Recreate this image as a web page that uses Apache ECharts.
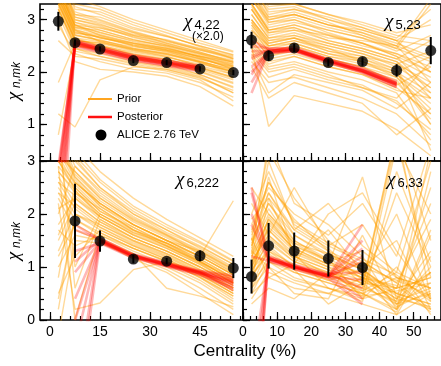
<!DOCTYPE html>
<html>
<head>
<meta charset="utf-8">
<script src="https://cdn.jsdelivr.net/npm/echarts@6/dist/echarts.min.js"></script>
<style>html,body{margin:0;padding:0;background:#fff}#c{width:441px;height:366px}</style>
</head>
<body>
<div id="c"></div>
<script>
// ---------- data ----------
const centrality = [2.5, 7.5, 15, 25, 35, 45, 55];

const chi422 = [2.97, 2.56, 2.44, 2.22, 2.18, 2.06, 1.99];
const chi422Err = [0.18, 0.06, 0.05, 0.05, 0.05, 0.05, 0.05];
const chi523 = [2.61, 2.31, 2.46, 2.18, 2.20, 2.03, 2.41];
const chi523Err = [0.16, 0.10, 0.08, 0.07, 0.08, 0.12, 0.26];
const chi6222 = [null, 1.87, 1.49, 1.15, 1.11, 1.21, 0.98];
const chi6222Err = [null, 0.70, 0.20, 0.08, 0.06, 0.10, 0.19];
const chi633 = [0.82, 1.40, 1.30, 1.16, 0.99, null, null];
const chi633Err = [0.32, 0.43, 0.35, 0.34, 0.33, null, null];

const prior422 = [
 [3.6,2.95,2.85,2.7,2.58,2.42,2.28],[3.8,3.1,3.05,2.82,2.68,2.5,2.33],[3.5,2.8,2.7,2.55,2.45,2.3,2.15],
 [3.4,2.7,2.62,2.45,2.35,2.2,2.05],[3.7,2.9,2.75,2.6,2.5,2.32,2.12],[3.3,2.6,2.55,2.4,2.3,2.12,1.95],
 [3.9,3.2,3.15,2.9,2.7,2.48,2.25],[3.5,2.75,2.66,2.5,2.38,2.22,2.0],[3.2,2.5,2.45,2.3,2.2,2.05,1.85],
 [3.6,2.85,2.8,2.62,2.48,2.28,2.05],[3.4,2.65,2.5,2.32,2.2,2.0,1.78],[3.1,2.4,2.3,2.15,2.05,1.88,1.65],
 [3.8,3.0,2.9,2.72,2.62,2.45,2.3],[2.9,2.35,2.2,2.05,1.98,1.8,1.52],[3.5,2.8,2.58,2.42,2.3,2.1,1.9],
 [3.7,3.05,2.95,2.75,2.55,2.38,2.18],[1.8,2.55,2.4,2.25,2.15,1.95,1.7],[3.3,2.58,2.5,2.38,2.28,2.15,2.02],
 [3.6,2.9,2.7,2.52,2.42,2.25,2.1],[4.0,3.3,3.2,2.95,2.75,2.55,2.38],[3.2,2.45,2.35,2.2,2.1,1.95,1.72],
 [3.45,2.72,2.6,2.48,2.4,2.2,1.98],[1.2,0.95,1.85,2.1,2.05,1.9,1.6],[3.0,2.2,2.05,2.0,1.92,1.72,1.35],
 [3.55,2.82,2.65,2.55,2.42,2.3,2.2],[3.35,2.62,2.52,2.35,2.25,2.08,1.9],[0.8,2.45,2.3,2.18,2.08,1.92,1.6],
 [3.65,3.0,2.88,2.66,2.52,2.35,2.15],[3.25,2.5,2.42,2.28,2.18,2.02,1.8],[3.75,3.15,3.0,2.78,2.6,2.42,2.25],
 [3.6,2.85,2.72,2.55,2.45,2.28,2.1],[3.4,2.75,2.68,2.5,2.4,2.25,2.08],[3.7,2.95,2.8,2.62,2.5,2.35,2.18],
 [3.3,2.65,2.58,2.42,2.33,2.18,2.0],[3.8,3.05,2.92,2.7,2.55,2.38,2.2],[3.5,2.78,2.66,2.52,2.42,2.26,2.06],
 [3.9,3.25,3.1,2.85,2.68,2.5,2.32],[3.2,2.55,2.48,2.34,2.24,2.08,1.88],[3.6,2.88,2.76,2.58,2.46,2.3,2.12],
 [3.45,2.7,2.6,2.45,2.36,2.18,1.95],[4.1,3.4,3.25,3.0,2.8,2.6,2.4],[3.35,2.6,2.56,2.44,2.34,2.2,2.04],
 [3.75,3.1,2.98,2.76,2.6,2.44,2.26],[2.6,2.3,2.25,2.12,2.02,1.85,1.45],[3.55,2.9,2.84,2.68,2.52,2.36,2.22]
];
const post422 = [
 [-0.2,2.56,2.44,2.28,2.18,2.08],[-1.6,2.59,2.47,2.31,2.21,2.11],[0.1,2.51,2.39,2.23,2.13,2.03],
 [-0.6,2.55,2.42,2.26,2.17,2.06],[-2.5,2.61,2.48,2.32,2.22,2.12],[0.2,2.49,2.38,2.22,2.12,2.01],
 [-0.4,2.57,2.45,2.29,2.19,2.09],[-0.9,2.53,2.41,2.25,2.15,2.05],[0.0,2.59,2.43,2.27,2.16,2.07],
 [-1.2,2.54,2.44,2.28,2.18,2.08]
];

const prior523 = [
 [3.5,3.0,3.1,2.9,2.75,2.55,2.3],[3.2,2.7,2.8,2.6,2.45,2.25,1.9],[2.9,2.45,2.55,2.35,2.25,2.0,1.6],
 [3.6,3.2,3.25,3.0,2.8,2.6,2.5],[2.6,2.2,2.3,2.1,1.95,1.7,1.2],[3.0,2.6,2.7,2.5,2.35,2.1,1.7],
 [2.4,2.0,2.1,1.9,1.75,1.4,0.9],[3.4,2.9,3.0,2.75,2.55,2.3,2.0],[2.2,1.8,1.9,1.7,1.5,1.2,0.6],
 [3.3,2.8,2.85,2.65,2.6,2.5,3.4],[2.8,2.5,2.6,2.45,2.3,2.15,2.4],[3.8,3.3,3.3,3.1,2.9,2.7,2.6],
 [2.5,0.96,1.55,1.4,1.25,0.9,0.4],[3.1,2.65,2.7,2.55,2.4,2.2,1.5],[2.7,2.3,2.4,2.2,2.05,1.85,1.0],
 [3.5,2.95,3.05,2.85,2.7,2.45,2.2],[2.3,1.6,1.95,1.8,1.65,1.3,1.8],[2.95,2.55,2.65,2.45,2.2,1.9,1.3],
 [3.7,3.1,3.2,3.0,2.85,2.65,3.2],[2.5,2.1,2.2,2.0,1.85,1.6,0.7],[3.2,2.75,2.8,2.7,2.5,2.35,2.0],
 [2.1,1.5,1.8,1.6,1.4,0.8,1.3],[3.3,2.85,2.95,2.8,2.65,2.4,2.7],[2.85,2.4,2.5,2.3,2.15,1.95,1.4],
 [3.6,3.05,3.15,2.95,2.7,2.5,1.8],[2.6,2.25,2.35,2.15,2.0,1.75,2.1],[3.0,2.6,2.65,2.4,2.3,2.05,0.5],
 [2.75,2.35,2.45,2.25,2.1,1.8,1.1],[3.4,3.0,3.1,2.9,2.8,2.6,3.0],[2.45,2.05,2.15,1.95,1.7,1.5,2.2],
 [3.3,2.8,2.9,2.7,2.55,2.35,2.1],[3.0,2.55,2.65,2.5,2.35,2.15,1.8],[3.5,3.05,3.1,2.9,2.75,2.5,2.25],
 [2.8,2.4,2.5,2.3,2.2,1.95,1.5],[3.2,2.75,2.85,2.6,2.45,2.25,2.6],[2.7,2.3,2.45,2.25,2.1,1.9,1.2],
 [3.6,3.15,3.2,3.05,2.85,2.6,2.0],[2.9,2.5,2.6,2.4,2.25,2.05,1.0],[3.4,2.95,3.0,2.8,2.65,2.45,3.3],
 [2.55,2.15,2.3,2.1,1.95,1.65,1.5],[3.1,2.65,2.75,2.55,2.4,2.2,1.7],[3.7,3.25,3.3,3.1,2.95,2.75,2.9],
 [2.35,1.9,2.05,1.85,1.7,1.45,0.8],[3.25,2.8,2.9,2.72,2.55,2.3,1.6],[2.95,2.5,2.55,2.35,2.2,2.0,2.3]
];
const post523 = [
 [2.4,2.40,2.43,2.21,2.03,1.77],[2.1,2.37,2.40,2.18,1.99,1.72],[2.6,2.44,2.47,2.25,2.07,1.82],
 [1.8,2.36,2.40,2.18,1.99,1.71],[2.25,2.41,2.44,2.22,2.04,1.78],[1.6,2.39,2.42,2.20,2.02,1.76],
 [2.5,2.45,2.46,2.24,2.06,1.80],[1.95,2.37,2.41,2.20,2.01,1.75],[2.3,2.42,2.43,2.22,2.03,1.78],
 [2.0,2.40,2.44,2.21,2.02,1.76]
];

const prior6222 = [
 [3.5,2.8,2.3,1.9,1.6,1.3,0.95],[2.8,2.4,2.0,1.65,1.4,1.1,0.75],[1.5,2.2,1.85,1.5,1.25,0.95,0.6],
 [3.8,3.1,2.6,2.1,1.75,1.45,1.1],[0.5,1.2,1.7,1.4,1.15,0.85,0.5],[3.2,2.6,2.2,1.8,1.5,1.2,0.85],
 [2.4,1.9,1.6,1.3,1.05,0.75,0.35],[3.6,0.6,1.9,1.55,1.3,1.0,0.7],[2.0,2.9,2.45,2.0,1.7,1.4,1.05],
 [3.0,2.5,2.05,1.75,1.45,1.2,2.25],[1.2,1.8,1.55,1.25,1.0,0.7,0.3],[3.4,2.7,2.25,1.85,1.55,1.25,0.9],
 [2.6,2.1,1.75,1.45,1.2,0.9,0.55],[-0.3,1.5,1.45,1.2,0.95,0.6,0.2],[3.9,3.3,2.8,2.3,1.9,1.55,1.2],
 [2.2,0.2,0.32,0.95,1.1,0.9,0.6],[3.1,2.55,2.1,1.7,1.4,1.1,0.8],[1.8,2.3,1.95,1.6,1.35,1.05,0.7],
 [2.9,0.0,1.65,1.35,1.1,0.8,0.45],[3.7,3.0,2.5,2.05,1.7,1.35,1.0],[1.0,1.6,1.5,1.15,0.9,0.5,0.1],
 [2.5,2.0,1.7,1.4,1.15,0.85,0.5],[3.3,2.65,2.15,1.8,1.5,1.3,0.95],[0.2,2.0,1.8,1.5,1.25,0.95,0.6],
 [2.7,2.2,1.85,1.55,1.3,1.0,0.65],[3.5,1.0,2.0,1.65,1.45,1.15,0.8],[1.6,2.4,2.1,1.7,1.45,1.1,0.75],
 [2.3,1.7,1.5,1.25,0.6,0.45,0.25],[3.0,2.45,1.95,1.6,1.35,1.05,0.7],[0.8,2.6,2.2,1.8,1.5,1.2,0.85],
 [3.3,2.7,2.2,1.8,1.5,1.2,0.85],[2.9,2.5,2.05,1.7,1.45,1.15,0.8],[3.6,2.9,2.4,1.95,1.62,1.32,0.98],
 [2.1,2.3,1.9,1.55,1.3,1.0,0.65],[3.0,2.6,2.15,1.75,1.42,1.12,0.72],[1.3,2.0,1.75,1.42,1.18,0.88,0.5],
 [3.8,3.2,2.65,2.15,1.8,1.48,1.12],[2.6,2.35,1.95,1.62,1.38,1.08,0.78],[0.4,1.9,1.65,1.35,1.12,0.82,0.45],
 [3.4,2.75,2.3,1.88,1.58,1.28,0.92],[2.4,2.15,1.8,1.48,1.22,0.92,0.55],[3.1,2.8,2.35,1.92,1.6,1.25,0.88],
 [1.7,1.4,1.6,1.35,1.1,0.8,0.4],[2.8,2.45,2.0,1.68,1.4,1.08,0.68],[3.5,3.05,2.5,2.0,1.65,1.38,1.05]
];
const post6222 = [
 [null,1.7,1.53,1.23,1.07,0.92,0.80],[null,0.9,1.48,1.19,1.03,0.88,0.70],[null,-0.5,1.50,1.21,1.05,0.90,0.74],
 [null,1.3,1.45,1.17,1.01,0.85,0.60],[null,-1.5,1.54,1.24,1.08,0.93,0.84],[null,0.4,1.49,1.20,1.04,0.89,0.68],
 [null,1.8,1.51,1.22,1.05,0.90,0.76],[null,-2.0,1.47,1.18,1.02,0.86,0.64],[null,0.0,1.50,1.21,1.04,0.88,0.72],
 [null,1.1,1.52,1.20,1.06,0.91,0.56]
];

const prior633 = [
 [1.2,1.9,1.3,1.0,0.8,0.4,0.9],[0.9,1.5,1.1,0.9,0.7,3.5,1.5],[1.6,2.4,1.6,1.2,0.95,0.5,0.3],
 [0.6,1.2,0.9,0.7,0.5,0.2,2.8],[1.4,2.1,1.4,1.1,1.3,0.8,0.6],[2.0,2.8,1.8,1.4,1.1,0.7,1.9],
 [1.0,1.7,1.2,0.85,0.6,3.6,0.4],[0.4,0.9,0.7,0.5,0.3,0.1,1.2],[1.8,2.5,2.0,1.6,2.2,1.2,3.3],
 [1.1,1.6,1.15,1.7,0.9,0.3,0.7],[1.5,3.2,2.3,1.5,1.0,1.5,0.2],[0.8,1.4,1.0,0.75,0.55,2.4,1.0],
 [2.5,2.0,1.5,1.1,0.8,0.6,2.2],[1.3,1.0,0.5,0.4,1.6,0.3,0.5],[0.7,2.3,1.7,2.2,1.4,0.9,3.0],
 [1.0,1.8,1.35,1.05,2.7,0.4,1.3],[1.7,2.6,1.9,1.3,0.65,3.4,0.8],[0.5,1.1,0.8,0.6,0.4,1.0,0.1],
 [1.25,3.4,2.2,1.8,1.2,0.2,1.7],[0.95,1.3,0.95,0.3,0.7,0.6,2.5],[1.45,2.2,1.5,1.15,0.85,2.0,0.35],
 [2.2,1.6,2.5,1.4,1.8,0.8,0.6],[0.3,0.6,0.4,0.9,0.5,0.15,1.6],[1.15,2.7,1.2,0.95,0.45,3.3,2.0],
 [0.85,1.95,1.45,1.25,0.95,0.5,0.9],[1.55,0.8,1.05,2.0,2.4,1.3,0.4],[1.35,3.0,1.75,1.35,0.75,0.35,3.2],
 [0.65,1.35,1.0,0.8,1.1,0.7,0.2],[1.9,2.3,1.25,0.6,0.35,2.8,1.1],[1.05,1.75,1.3,1.05,0.9,0.1,0.5],
 [1.1,1.6,1.2,0.95,0.75,0.5,0.3],[0.8,1.3,1.05,0.8,0.6,0.35,0.6],[1.3,2.0,1.45,1.1,0.85,0.6,0.8],
 [0.7,1.1,0.9,0.7,0.5,0.8,0.4],[1.5,2.2,1.6,1.25,0.95,0.45,0.2],[0.95,1.45,1.1,0.85,0.65,0.3,1.0],
 [1.25,1.85,1.35,1.05,0.8,0.65,0.15],[0.6,1.0,0.75,0.6,0.45,0.55,0.7],[1.4,2.4,1.7,1.3,1.0,0.75,0.45],
 [1.0,1.55,1.15,0.9,0.7,0.2,0.9],[0.5,0.8,0.6,0.5,0.8,0.4,0.25],[1.2,1.7,1.25,1.0,0.55,0.9,0.6],
 [1.65,2.6,1.85,1.45,1.15,0.85,0.35],[0.85,1.25,0.95,0.75,0.95,0.25,0.55],[1.1,1.9,1.4,1.15,0.4,0.6,0.8]
];
const post633 = [
 [2.4,1.15,1.00,0.83,1.5],[-2.7,1.19,1.03,0.86,0.6],[1.8,1.11,0.97,0.80,1.2],
 [-1.5,1.16,1.01,0.84,0.4],[2.0,1.14,0.99,0.82,1.8],[-3.0,1.20,1.04,0.87,0.9],
 [1.2,1.12,0.96,0.79,0.3],[-2.2,1.17,1.00,0.83,1.35],[2.5,1.15,0.99,0.82,0.75],
 [-1.0,1.16,1.01,0.84,1.1]
];

const xTicksLeft = [0, 15, 30, 45];
const xTicksRight = [0, 10, 20, 30, 40, 50];
const yTicksTop = [1, 2, 3];
const yTicksBottom = [0, 1, 2, 3];

// ---------- layout ----------
const FONT = "'Liberation Sans', Arial, sans-serif";
function range(a, b, s) { const r = []; for (let v = a; v <= b + 1e-9; v += s) r.push(+v.toFixed(3)); return r; }

const panels = [
  { grid: {left: 40, top: 4, width: 203, height: 157}, x: [-3, 57.9], y: [0.3, 3.3],
    xMaj: xTicksLeft, xMin: range(0, 57, 3), yMaj: yTicksTop, yMin: range(0.4, 3.2, 0.2),
    xLab: false, yLab: true, pts: chi422, err: chi422Err, prior: prior422, post: post422 },
  { grid: {left: 243, top: 4, width: 203, height: 157}, x: [0, 58], y: [0.3, 3.3],
    xMaj: xTicksRight, xMin: range(0, 58, 2), yMaj: yTicksTop, yMin: range(0.4, 3.2, 0.2),
    xLab: false, yLab: false, pts: chi523, err: chi523Err, prior: prior523, post: post523 },
  { grid: {left: 40, top: 161, width: 203, height: 159}, x: [-3, 57.9], y: [0, 3],
    xMaj: xTicksLeft, xMin: range(0, 57, 3), yMaj: yTicksBottom, yMin: range(0, 3, 0.2),
    xLab: true, yLab: true, pts: chi6222, err: chi6222Err, prior: prior6222, post: post6222 },
  { grid: {left: 243, top: 161, width: 203, height: 159}, x: [0, 58], y: [0, 3],
    xMaj: xTicksRight, xMin: range(0, 58, 2), yMaj: yTicksBottom, yMin: range(0, 3, 0.2),
    xLab: true, yLab: false, pts: chi633, err: chi633Err, prior: prior633, post: post633 }
];

const grids = [], xAxes = [], yAxes = [], series = [];
panels.forEach((p, g) => {
  grids.push(Object.assign({show: true, borderColor: '#000', borderWidth: 1.6, backgroundColor: 'transparent', containLabel: false}, p.grid));
  const xi = xAxes.length, yi = yAxes.length;
  const tickStyle = {color: '#000', width: 1.2};
  xAxes.push({type: 'value', gridIndex: g, min: p.x[0], max: p.x[1], position: 'bottom',
    axisLine: {show: false, onZero: false}, splitLine: {show: false},
    axisTick: {show: true, inside: true, length: 8, customValues: p.xMaj, lineStyle: tickStyle},
    axisLabel: {show: p.xLab, customValues: p.xMaj, margin: 5, fontSize: 14, color: '#000', fontFamily: FONT}});
  xAxes.push({type: 'value', gridIndex: g, min: p.x[0], max: p.x[1], position: 'bottom',
    axisLine: {show: false, onZero: false}, splitLine: {show: false},
    axisTick: {show: true, inside: true, length: 4, customValues: p.xMin, lineStyle: tickStyle},
    axisLabel: {show: false}});
  yAxes.push({type: 'value', gridIndex: g, min: p.y[0], max: p.y[1], position: 'left',
    axisLine: {show: false, onZero: false}, splitLine: {show: false},
    axisTick: {show: true, inside: true, length: 7, customValues: p.yMaj, lineStyle: tickStyle},
    axisLabel: {show: p.yLab, customValues: p.yMaj, margin: 5, fontSize: 14, color: '#000', fontFamily: FONT}});
  yAxes.push({type: 'value', gridIndex: g, min: p.y[0], max: p.y[1], position: 'left',
    axisLine: {show: false, onZero: false}, splitLine: {show: false},
    axisTick: {show: true, inside: true, length: 4, customValues: p.yMin, lineStyle: tickStyle},
    axisLabel: {show: false}});

  p.prior.forEach(arr => series.push({type: 'line', xAxisIndex: xi, yAxisIndex: yi, silent: true,
    showSymbol: false, symbol: 'none', clip: true, z: 2,
    lineStyle: {color: 'rgba(255,160,0,0.4)', width: 1.4},
    data: arr.map((v, i) => [centrality[i], v])}));
  p.post.forEach(arr => series.push({type: 'line', xAxisIndex: xi, yAxisIndex: yi, silent: true,
    showSymbol: false, symbol: 'none', clip: true, z: 3,
    lineStyle: {color: 'rgba(255,0,0,0.28)', width: 2.6},
    data: arr.map((v, i) => [centrality[i], v])}));

  const ebData = [], ptData = [];
  p.pts.forEach((v, i) => { if (v != null) { ptData.push([centrality[i], v]); ebData.push([centrality[i], v, p.err[i]]); } });
  series.push({type: 'custom', xAxisIndex: xi, yAxisIndex: yi, silent: true, clip: true, z: 5,
    renderItem: (params, api) => {
      const x = api.value(0), y = api.value(1), e = api.value(2);
      const a = api.coord([x, y - e]), b = api.coord([x, y + e]);
      return {type: 'line', shape: {x1: a[0], y1: a[1], x2: b[0], y2: b[1]}, style: {stroke: '#000', lineWidth: 2}};
    }, data: ebData});
  series.push({type: 'scatter', xAxisIndex: xi, yAxisIndex: yi, silent: true, z: 6,
    symbol: 'circle', symbolSize: 11, itemStyle: {color: '#000'}, data: ptData});
});

function sub(x, y, chiText, subText) {
  return [
    {type: 'text', x: x, y: y, z: 100, style: {text: chiText, font: "italic 19px 'Liberation Serif', serif", fill: '#000', textAlign: 'left', textVerticalAlign: 'middle'}},
    {type: 'text', x: x + 10.5, y: y + 3, z: 100, style: {text: subText, font: "13px " + FONT, fill: '#000', textAlign: 'left', textVerticalAlign: 'middle'}}
  ];
}

const graphics = [].concat(
  sub(184, 22, 'χ', '4,22'),
  [{type: 'text', x: 192, y: 37, z: 100, style: {text: '(×2.0)', font: "12px " + FONT, fill: '#000', textAlign: 'left', textVerticalAlign: 'middle'}}],
  sub(385, 22, 'χ', '5,23'),
  sub(176, 180, 'χ', '6,222'),
  sub(387, 180, 'χ', '6,33'),
  [
    {type: 'text', x: 14, y: 96, rotation: Math.PI / 2, z: 100, style: {text: 'χ', font: "italic 19px 'Liberation Serif', serif", fill: '#000', textAlign: 'center', textVerticalAlign: 'middle'}},
    {type: 'text', x: 17, y: 75, rotation: Math.PI / 2, z: 100, style: {text: 'n,mk', font: "italic 12px " + FONT, fill: '#000', textAlign: 'center', textVerticalAlign: 'middle'}},
    {type: 'text', x: 14, y: 256, rotation: Math.PI / 2, z: 100, style: {text: 'χ', font: "italic 19px 'Liberation Serif', serif", fill: '#000', textAlign: 'center', textVerticalAlign: 'middle'}},
    {type: 'text', x: 17, y: 235, rotation: Math.PI / 2, z: 100, style: {text: 'n,mk', font: "italic 12px " + FONT, fill: '#000', textAlign: 'center', textVerticalAlign: 'middle'}},
    {type: 'text', x: 245, y: 351, z: 100, style: {text: 'Centrality (%)', font: "17px " + FONT, fill: '#000', textAlign: 'center', textVerticalAlign: 'middle'}},
    {type: 'line', z: 100, shape: {x1: 88, y1: 99, x2: 112, y2: 99}, style: {stroke: '#FFA520', lineWidth: 2}},
    {type: 'text', x: 117, y: 99, z: 100, style: {text: 'Prior', font: "11.5px " + FONT, fill: '#000', textAlign: 'left', textVerticalAlign: 'middle'}},
    {type: 'line', z: 100, shape: {x1: 88, y1: 117, x2: 112, y2: 117}, style: {stroke: '#FF1010', lineWidth: 2.5}},
    {type: 'text', x: 117, y: 117, z: 100, style: {text: 'Posterior', font: "11.5px " + FONT, fill: '#000', textAlign: 'left', textVerticalAlign: 'middle'}},
    {type: 'circle', z: 100, shape: {cx: 101, cy: 135, r: 5.5}, style: {fill: '#000'}},
    {type: 'text', x: 117, y: 135, z: 100, style: {text: 'ALICE 2.76 TeV', font: "11.5px " + FONT, fill: '#000', textAlign: 'left', textVerticalAlign: 'middle'}}
  ]
);

const chart = echarts.init(document.getElementById('c'), null, {renderer: 'canvas'});
chart.setOption({
  animation: false,
  backgroundColor: '#fff',
  grid: grids, xAxis: xAxes, yAxis: yAxes, series: series,
  graphic: graphics
});
</script>
</body>
</html>
